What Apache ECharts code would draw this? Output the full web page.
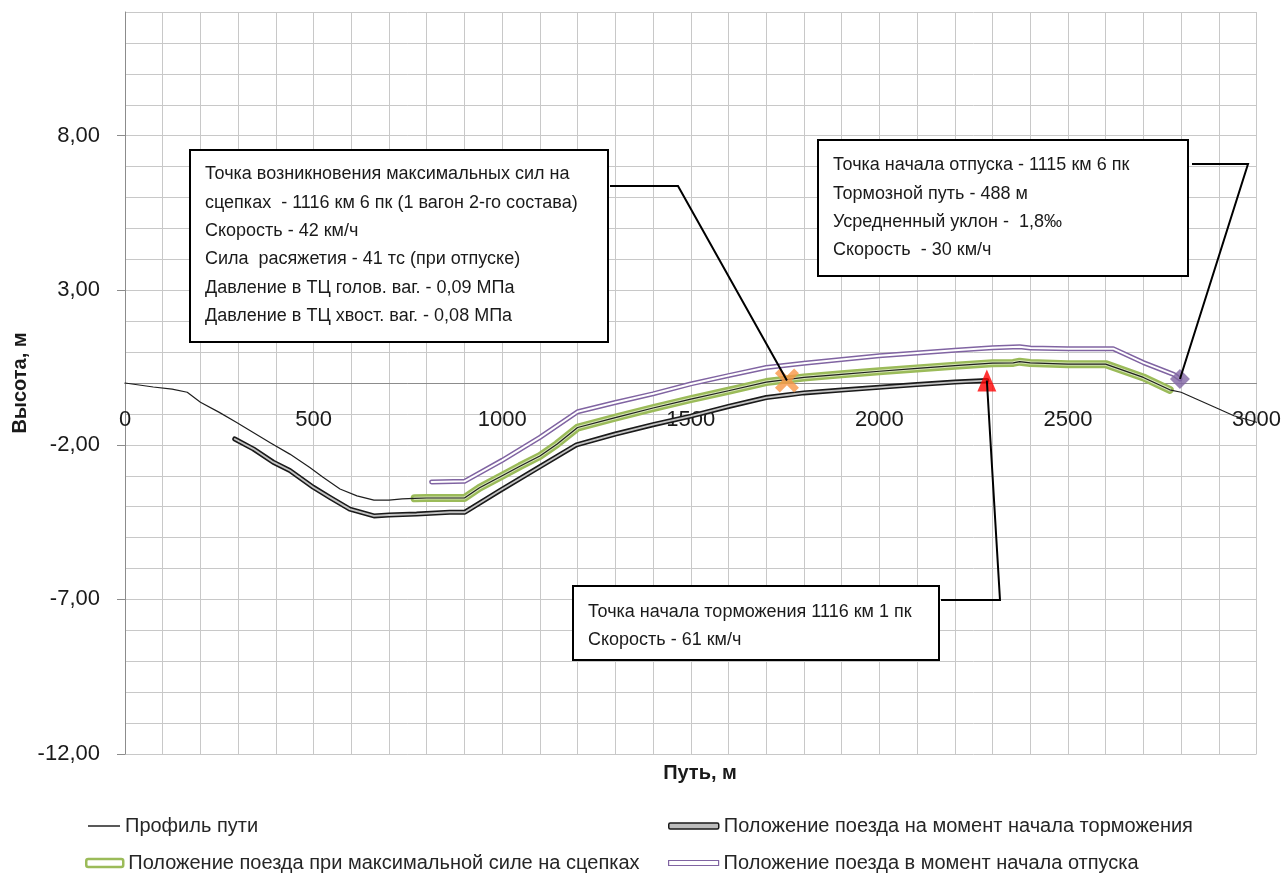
<!DOCTYPE html>
<html>
<head>
<meta charset="utf-8">
<script src="https://cdn.jsdelivr.net/npm/echarts@6/dist/echarts.min.js"></script>
<style>
  html, body { margin: 0; padding: 0; background: #ffffff; }
  #chart { width: 1284px; height: 873px; }
</style>
</head>
<body>
<div id="chart"></div>
<script>
// Track profile: distance (m) and elevation (m)
const trackX = [0, 75, 125, 165, 200, 250, 295, 340, 385, 437, 490, 525, 570, 615, 660, 700, 735, 768, 800, 900, 940, 1000, 1047, 1100, 1145, 1200, 1300, 1400, 1500, 1600, 1700, 1800, 1900, 2000, 2100, 2200, 2300, 2355, 2372, 2400, 2500, 2600, 2700, 2770, 2800, 2900, 2940, 3000];
const trackY = [0, -0.13, -0.2, -0.3, -0.62, -0.95, -1.27, -1.6, -1.93, -2.3, -2.73, -3.05, -3.43, -3.65, -3.79, -3.79, -3.75, -3.73, -3.72, -3.72, -3.39, -3.0, -2.69, -2.36, -1.98, -1.44, -1.12, -0.81, -0.52, -0.25, 0.03, 0.18, 0.28, 0.38, 0.47, 0.56, 0.64, 0.65, 0.69, 0.65, 0.61, 0.61, 0.18, -0.22, -0.3, -0.84, -1.06, -1.27];

// Train position when braking starts
const brakeX = [291, 340, 393, 437, 499, 543, 596, 660, 700, 773, 861, 901, 994, 1090, 1197, 1300, 1400, 1500, 1600, 1700, 1760, 1800, 1900, 2000, 2100, 2200, 2285];
const brakeY = [-1.81, -2.13, -2.56, -2.83, -3.37, -3.7, -4.08, -4.3, -4.27, -4.24, -4.18, -4.18, -3.48, -2.78, -2.0, -1.65, -1.35, -1.07, -0.76, -0.47, -0.38, -0.32, -0.23, -0.14, -0.05, 0.03, 0.08];

// Train position at maximum coupler force
const maxX = [768, 800, 900, 940, 1000, 1047, 1100, 1145, 1200, 1300, 1400, 1500, 1600, 1700, 1800, 1900, 2000, 2100, 2200, 2300, 2355, 2372, 2400, 2500, 2600, 2700, 2770];
const maxY = [-3.73, -3.72, -3.72, -3.39, -3.0, -2.69, -2.36, -1.98, -1.44, -1.12, -0.81, -0.52, -0.25, 0.03, 0.18, 0.28, 0.38, 0.47, 0.56, 0.64, 0.65, 0.69, 0.65, 0.61, 0.61, 0.18, -0.22];

// Train position when brake release starts
const releaseX = [813, 900, 1000, 1100, 1200, 1300, 1400, 1500, 1600, 1700, 1800, 1900, 2000, 2100, 2200, 2300, 2372, 2400, 2500, 2620, 2700, 2780, 2797];
const releaseY = [-3.2, -3.18, -2.5, -1.76, -0.93, -0.63, -0.35, -0.03, 0.24, 0.5, 0.64, 0.76, 0.88, 0.97, 1.06, 1.14, 1.17, 1.13, 1.11, 1.11, 0.66, 0.28, 0.13];

// Event points [distance, elevation]
const maxForcePoint = [1755, 0.08];
const brakeStartPoint = [2285, 0.08];
const releaseStartPoint = [2797, 0.13];

// Axis ticks
const yTickValues = [-12, -7, -2, 3, 8];
const xTickValues = [0, 500, 1000, 1500, 2000, 2500, 3000];

const seriesNames = [
  'Профиль пути',
  'Положение поезда на момент начала торможения',
  'Положение поезда при максимальной силе на сцепках',
  'Положение поезда в момент начала отпуска'
];

const noteMaxForce = [
  'Точка возникновения максимальных сил на',
  'сцепках  - 1116 км 6 пк (1 вагон 2-го состава)',
  'Скорость - 42 км/ч',
  'Сила  расяжетия - 41 тс (при отпуске)',
  'Давление в ТЦ голов. ваг. - 0,09 МПа',
  'Давление в ТЦ хвост. ваг. - 0,08 МПа'
];
const noteRelease = [
  'Точка начала отпуска - 1115 км 6 пк',
  'Тормозной путь - 488 м',
  'Усредненный уклон -  1,8‰',
  'Скорость  - 30 км/ч'
];
const noteBrake = [
  'Точка начала торможения 1116 км 1 пк',
  'Скорость - 61 км/ч'
];

function zip(xs, ys) { return xs.map((x, i) => [x, ys[i]]); }

const FONT = '"Liberation Sans", Arial, sans-serif';
const chart = echarts.init(document.getElementById('chart'), null, { renderer: 'canvas' });

function lineSeries(name, xs, ys, color, width, z) {
  return {
    name: name, type: 'line', data: zip(xs, ys), symbol: 'none', z: z,
    xAxisIndex: 0, yAxisIndex: 0,
    lineStyle: { color: color, width: width, join: 'round', cap: 'round' },
    emphasis: { disabled: true }, silent: true, animation: false
  };
}

function legendAt(left, top, name, icon, w, h, itemStyle) {
  return {
    left: left, top: top, orient: 'horizontal', selectedMode: false, padding: 0,
    itemWidth: w, itemHeight: h,
    textStyle: { fontFamily: FONT, fontSize: 20, color: '#262626' },
    data: [{ name: name, icon: icon, itemStyle: itemStyle }]
  };
}

const crossPath = 'path://M0,2 L2,0 L5,3 L8,0 L10,2 L7,5 L10,8 L8,10 L5,7 L2,10 L0,8 L3,5 Z';

chart.setOption({
  animation: false,
  backgroundColor: '#ffffff',
  grid: { left: 125, right: 27, top: 12, bottom: 119 },
  xAxis: {
    type: 'value', min: 0, max: 3000, interval: 100, position: 'bottom',
    axisLine: { onZero: false, lineStyle: { color: '#8c8c8c', width: 1 } },
    axisTick: { show: false },
    splitLine: { show: true, lineStyle: { color: '#c8c8c8', width: 1 } },
    axisLabel: {
      customValues: xTickValues, margin: 26,
      fontFamily: FONT, fontSize: 22, color: '#1a1a1a',
      formatter: v => String(v)
    }
  },
  yAxis: [
    {
      // fine grid, one line per metre
      type: 'value', min: -12, max: 12, interval: 1,
      axisLine: { show: true, lineStyle: { color: '#8c8c8c', width: 1 } },
      axisTick: { show: false },
      axisLabel: { show: false },
      splitLine: { show: true, lineStyle: { color: '#c8c8c8', width: 1 } }
    },
    {
      // labelled scale
      type: 'value', min: -12, max: 12, position: 'left',
      name: 'Высота, м', nameLocation: 'middle', nameRotate: 90, nameGap: 95,
      nameMoveOverlap: false,
      nameTextStyle: { fontFamily: FONT, fontSize: 20, fontWeight: 'bold', color: '#1a1a1a' },
      axisLine: { show: false },
      axisTick: { show: true, customValues: yTickValues, length: 8, lineStyle: { color: '#8c8c8c' } },
      splitLine: { show: false },
      axisLabel: {
        customValues: yTickValues, margin: 25,
        fontFamily: FONT, fontSize: 22, color: '#1a1a1a',
        formatter: v => v.toFixed(2).replace('.', ',')
      }
    }
  ],
  legend: [
    legendAt(88, 816, seriesNames[0], 'rect', 32, 1.5, { color: '#222222', borderWidth: 0 }),
    legendAt(668, 816, seriesNames[1], 'roundRect', 50, 6, { color: '#bdbdbd', borderColor: '#1a1a1a', borderWidth: 1.5 }),
    legendAt(85, 853, seriesNames[2], 'roundRect', 37, 8, { color: '#ffffff', borderColor: '#9bbb59', borderWidth: 2.5 }),
    legendAt(668, 853, seriesNames[3], 'rect', 50, 5, { color: '#ffffff', borderColor: '#8064a2', borderWidth: 1.2 })
  ],
  series: [
    lineSeries(seriesNames[1], brakeX, brakeY, '#1a1a1a', 5, 2),
    lineSeries('brake-inner', brakeX, brakeY, '#c4c4c4', 1.8, 3),
    lineSeries(seriesNames[3], releaseX, releaseY, '#8064a2', 5, 2),
    lineSeries('release-inner', releaseX, releaseY, '#ffffff', 2, 3),
    lineSeries(seriesNames[2], maxX, maxY, '#9bbb59', 8, 4),
    lineSeries('max-inner', maxX, maxY, '#d4e3b5', 3.2, 5),
    lineSeries(seriesNames[0], trackX, trackY, '#1f1f1f', 1.2, 6),
    {
      name: 'maxForcePoint', type: 'scatter', data: [maxForcePoint], z: 10,
      symbol: crossPath, symbolSize: 24, itemStyle: { color: '#f79646' }, silent: true
    },
    {
      name: 'brakeStartPoint', type: 'scatter', data: [brakeStartPoint], z: 10,
      symbol: 'triangle', symbolSize: [19, 22], itemStyle: { color: '#ff0000' }, silent: true
    },
    {
      name: 'releaseStartPoint', type: 'scatter', data: [releaseStartPoint], z: 10,
      symbol: 'diamond', symbolSize: 20, itemStyle: { color: '#8064a2' }, silent: true
    }
  ]
});

// Move the distance axis up so it crosses at zero elevation
const zeroY = chart.convertToPixel({ yAxisIndex: 0 }, 0);
const bottomY = chart.convertToPixel({ yAxisIndex: 0 }, -12);
chart.setOption({ xAxis: { offset: zeroY - bottomY } });

// Callout boxes with leader lines to the event points
function toPx(p) { return chart.convertToPixel({ xAxisIndex: 0, yAxisIndex: 0 }, p); }
const pMax = toPx(maxForcePoint);
const pBrake = toPx(brakeStartPoint);
const pRelease = toPx(releaseStartPoint);

function noteBox(x, y, w, h, lines, textTop) {
  return {
    type: 'group', z: 20,
    children: [
      { type: 'rect', shape: { x: x, y: y, width: w, height: h },
        style: { fill: '#ffffff', stroke: '#000000', lineWidth: 2 } },
      { type: 'text', x: x + 15, y: textTop,
        style: { text: lines.join('\n'), font: '18px ' + FONT, fill: '#1a1a1a',
                 lineHeight: 28.4, verticalAlign: 'top', align: 'left' } }
    ]
  };
}
function leader(points) {
  return { type: 'polyline', z: 19, shape: { points: points },
           style: { stroke: '#000000', lineWidth: 2, fill: null } };
}

chart.setOption({
  graphic: [
    leader([[610, 186], [678, 186], pMax]),
    leader([[1192, 164], [1248, 164], pRelease]),
    leader([[941, 600], [1000, 600], pBrake]),
    noteBox(190, 150, 418, 192, noteMaxForce, 160),
    noteBox(818, 140, 370, 136, noteRelease, 151),
    noteBox(573, 586, 366, 74, noteBrake, 597.5),
    { type: 'text', x: 700, y: 773, z: 20,
      style: { text: 'Путь, м', font: 'bold 20px ' + FONT, fill: '#1a1a1a',
               align: 'center', verticalAlign: 'middle' } }
  ]
});
</script>
</body>
</html>
